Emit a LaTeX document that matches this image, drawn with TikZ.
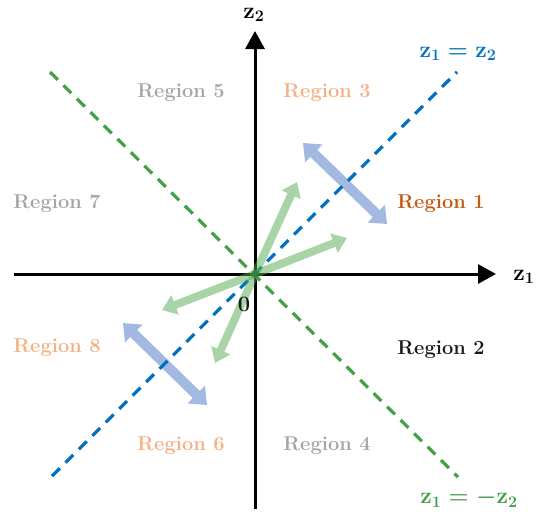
\RequirePackage{fix-cm}
\documentclass[tikz,border=0pt]{standalone}
\usetikzlibrary{arrows.meta}
\definecolor{axisblack}{RGB}{0,0,0}
\definecolor{lineblue}{RGB}{0,112,192}
\definecolor{linegreen}{RGB}{67,160,71}
\definecolor{arrowblue}{RGB}{164,185,226}
\definecolor{arrowgreen}{RGB}{84,170,80}
\definecolor{rgray}{RGB}{165,165,165}
\definecolor{rlight}{RGB}{244,177,131}
\definecolor{rdark}{RGB}{197,90,17}
\definecolor{rblack}{RGB}{26,26,26}
\tikzset{
  axisline/.style={line width=3pt, draw=axisblack, -{Triangle[length=18pt,width=19pt]}},
  diagblue/.style={line width=3.2pt, draw=lineblue, dash pattern=on 11pt off 8pt},
  diaggreen/.style={line width=3.2pt, draw=linegreen, dash pattern=on 11pt off 8pt},
  bluearr/.style={line width=10pt, draw=arrowblue, {Triangle[length=15pt,width=24pt]}-{Triangle[length=15pt,width=24pt]}},
  greenarr/.style={line width=8pt, draw=arrowgreen, -{Triangle[length=14pt,width=20pt]}},
  lbl/.style={font=\fontsize{20}{24}\selectfont\bfseries, inner sep=0pt},
  mlbl/.style={font=\fontsize{23}{27}\selectfont\boldmath, inner sep=0pt}
}
\begin{document}
\begin{tikzpicture}[x=1pt,y=-1pt]
\useasboundingbox (0,0) rectangle (554,515);
\coordinate (O) at (255,274);
\coordinate (xl) at (14,274);
\coordinate (xr) at (496,274);
\coordinate (yb) at (255,509);
\coordinate (yt) at (255,31);
\coordinate (bll) at (52,476);
\coordinate (bur) at (457,72);
\coordinate (gul) at (50,72);
\coordinate (glr) at (458,477);
\coordinate (ba1) at (303,143);
\coordinate (ba2) at (387,224);
\coordinate (bb1) at (123,323);
\coordinate (bb2) at (207,405);
\coordinate (ga1) at (297,182);
\coordinate (ga2) at (347,238);
\coordinate (ga3) at (162,310);
\coordinate (ga4) at (215,363);
% axes
\draw[axisline] (xl) -- (xr);
\draw[axisline] (yb) -- (yt);
% blue double arrows
\draw[bluearr] (ba1) -- (ba2);
\draw[bluearr] (bb1) -- (bb2);
% dashed lines
\draw[diagblue] (bll) -- (bur);
\draw[diaggreen] (gul) -- (glr);
% green arrows
\begin{scope}[transparency group, opacity=0.5]
\draw[greenarr] (O) -- (ga1);
\draw[greenarr] (O) -- (ga3);
\end{scope}
\begin{scope}[transparency group, opacity=0.5]
\draw[greenarr] (O) -- (ga2);
\draw[greenarr] (O) -- (ga4);
\end{scope}
\fill[linegreen!70!black, opacity=0.7] (O) circle (4pt);
% labels
\node[mlbl] (z1) at (524,277) {$\mathbf{z}_1$};
\node[mlbl] (z2) at (254,15) {$\mathbf{z}_2$};
\node[mlbl, text=lineblue] (eq1) at (458,54) {$\mathbf{z}_1=\mathbf{z}_2$};
\node[mlbl, text=linegreen] (eq2) at (469,498) {$\mathbf{z}_1=-\mathbf{z}_2$};
\node[lbl, font=\fontsize{22}{26}\selectfont\bfseries, text=rblack] (zero) at (244,304) {0};
\node[lbl, text=rdark] (r1) at (441,204) {Region 1};
\node[lbl, text=rblack] (r2) at (441,350) {Region 2};
\node[lbl, text=rlight] (r3) at (327,93) {Region 3};
\node[lbl, text=rgray] (r4) at (327,446) {Region 4};
\node[lbl, text=rgray] (r5) at (181,93) {Region 5};
\node[lbl, text=rlight] (r6) at (181,446) {Region 6};
\node[lbl, text=rgray] (r7) at (57,204) {Region 7};
\node[lbl, text=rlight] (r8) at (57,348) {Region 8};
\end{tikzpicture}
\end{document}
